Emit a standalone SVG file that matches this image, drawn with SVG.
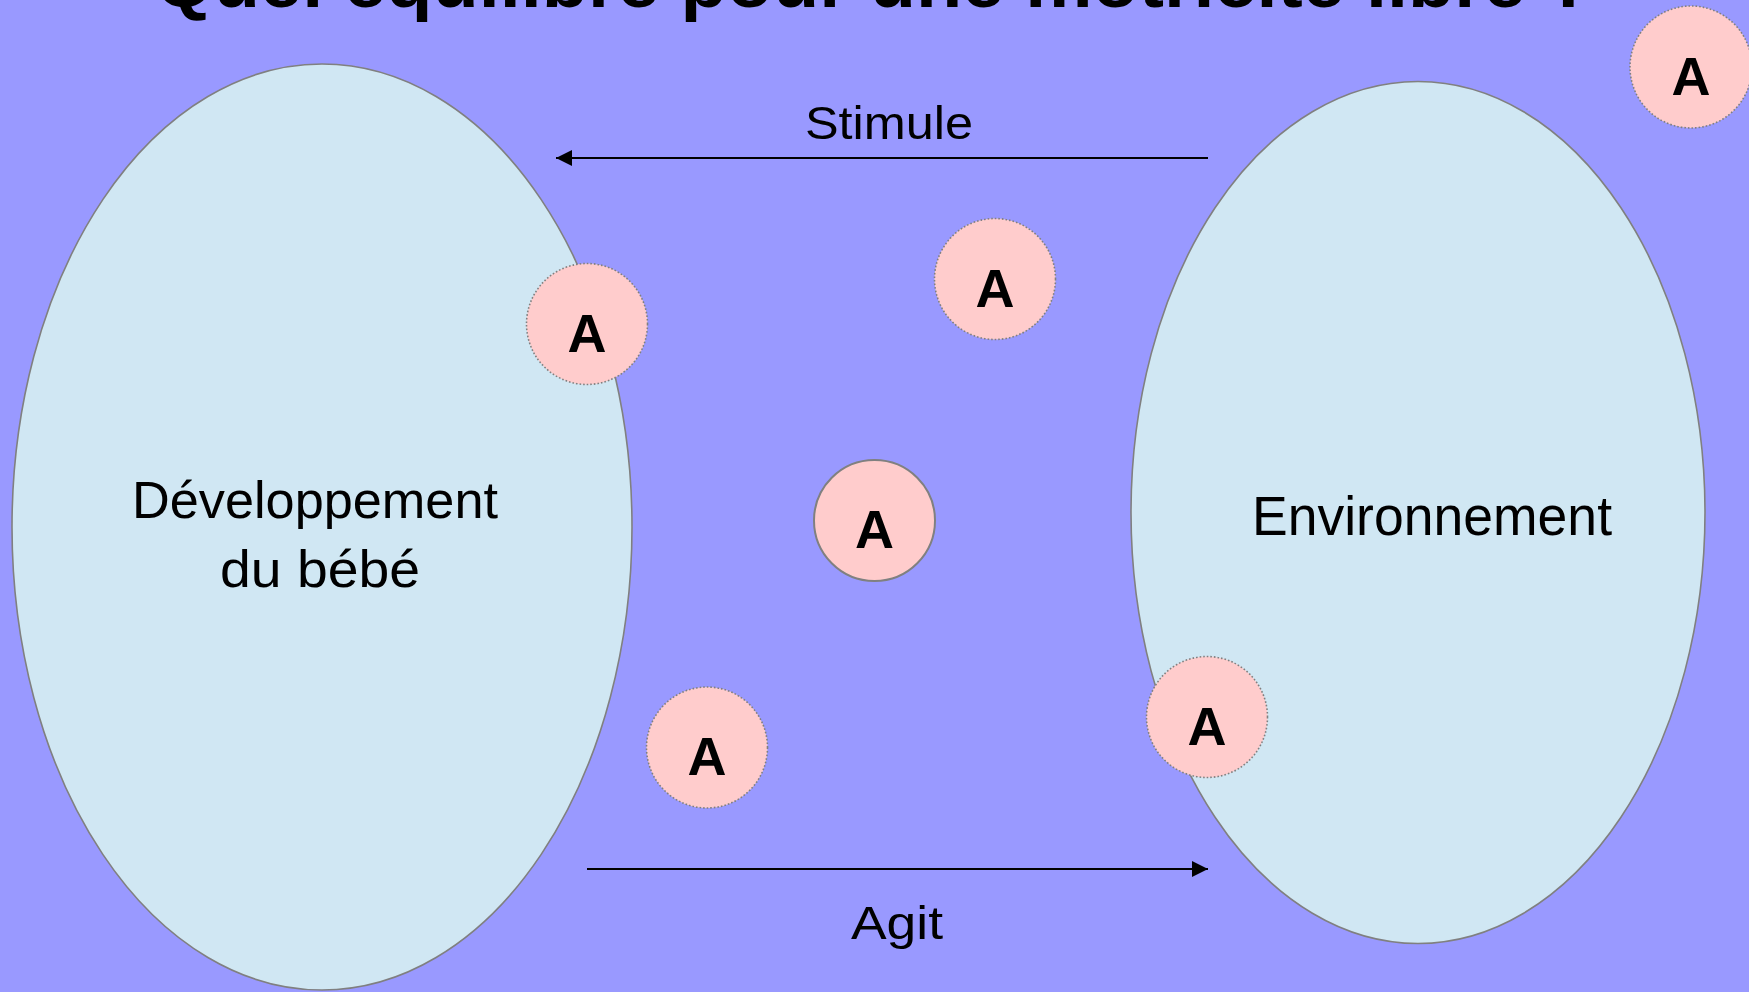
<svg xmlns="http://www.w3.org/2000/svg" width="1749" height="992" viewBox="0 0 1749 992">
  <defs>
    <style>
      .bg { fill: #9999FF; }
      .big { fill: #D0E7F3; stroke: #808080; stroke-width: 1.6; }
      .atom { fill: #FFCCCC; stroke: #808080; stroke-width: 1.6; stroke-dasharray: 1.6 2; }
      .atom-solid { fill: #FFCCCC; stroke: #808080; stroke-width: 2; }
      .lbl { font-family: "Liberation Sans", "DejaVu Sans", sans-serif; fill: #000; text-anchor: middle; }
      .a { font-family: "Liberation Sans", "DejaVu Sans", sans-serif; font-weight: bold; font-size: 54px; fill: #000; text-anchor: middle; }
      .conn { stroke: #000; stroke-width: 2.2; fill: none; }
    </style>
    <marker id="arrow" viewBox="0 0 10 10" refX="10" refY="5" markerUnits="userSpaceOnUse" markerWidth="17" markerHeight="16" orient="auto">
      <path d="M0,0 L10,5 L0,10 Z" fill="#000"/>
    </marker>
  </defs>

  <rect class="bg" x="0" y="0" width="1749" height="992"/>

  <g id="title">
    <text class="lbl" x="874" y="7" font-size="72" font-weight="bold" textLength="1438" lengthAdjust="spacingAndGlyphs">Quel équilibre pour une motricité libre ?</text>
  </g>

  <g id="node-developpement">
    <ellipse class="big" cx="322" cy="527" rx="310" ry="463"/>
    <text class="lbl" x="315" y="518" font-size="52" textLength="366" lengthAdjust="spacingAndGlyphs">Développement</text>
    <text class="lbl" x="320" y="587" font-size="52" textLength="200" lengthAdjust="spacingAndGlyphs">du bébé</text>
  </g>

  <g id="node-environnement">
    <ellipse class="big" cx="1418" cy="512.5" rx="287" ry="431"/>
    <text class="lbl" x="1432" y="535" font-size="55" textLength="360" lengthAdjust="spacingAndGlyphs">Environnement</text>
  </g>

  <g id="connectors">
    <line class="conn" x1="1208" y1="158" x2="556" y2="158" marker-end="url(#arrow)"/>
    <text class="lbl" x="889" y="139" font-size="46" textLength="168" lengthAdjust="spacingAndGlyphs">Stimule</text>
    <line class="conn" x1="587" y1="869" x2="1208" y2="869" marker-end="url(#arrow)"/>
    <text class="lbl" x="897" y="939" font-size="46" textLength="92" lengthAdjust="spacingAndGlyphs">Agit</text>
  </g>

  <g id="atom-1">
    <circle class="atom" cx="587" cy="324" r="60.5"/>
    <text class="a" x="587" y="352">A</text>
  </g>
  <g id="atom-2">
    <circle class="atom" cx="995" cy="279" r="60.5"/>
    <text class="a" x="995" y="307">A</text>
  </g>
  <g id="atom-3">
    <circle class="atom-solid" cx="874.5" cy="520.5" r="60.5"/>
    <text class="a" x="874.5" y="548">A</text>
  </g>
  <g id="atom-4">
    <circle class="atom" cx="707" cy="747.5" r="60.5"/>
    <text class="a" x="707" y="775">A</text>
  </g>
  <g id="atom-5">
    <circle class="atom" cx="1207" cy="717" r="60.5"/>
    <text class="a" x="1207" y="745">A</text>
  </g>
  <g id="atom-6">
    <circle class="atom" cx="1691" cy="67" r="61"/>
    <text class="a" x="1691" y="95">A</text>
  </g>
</svg>
